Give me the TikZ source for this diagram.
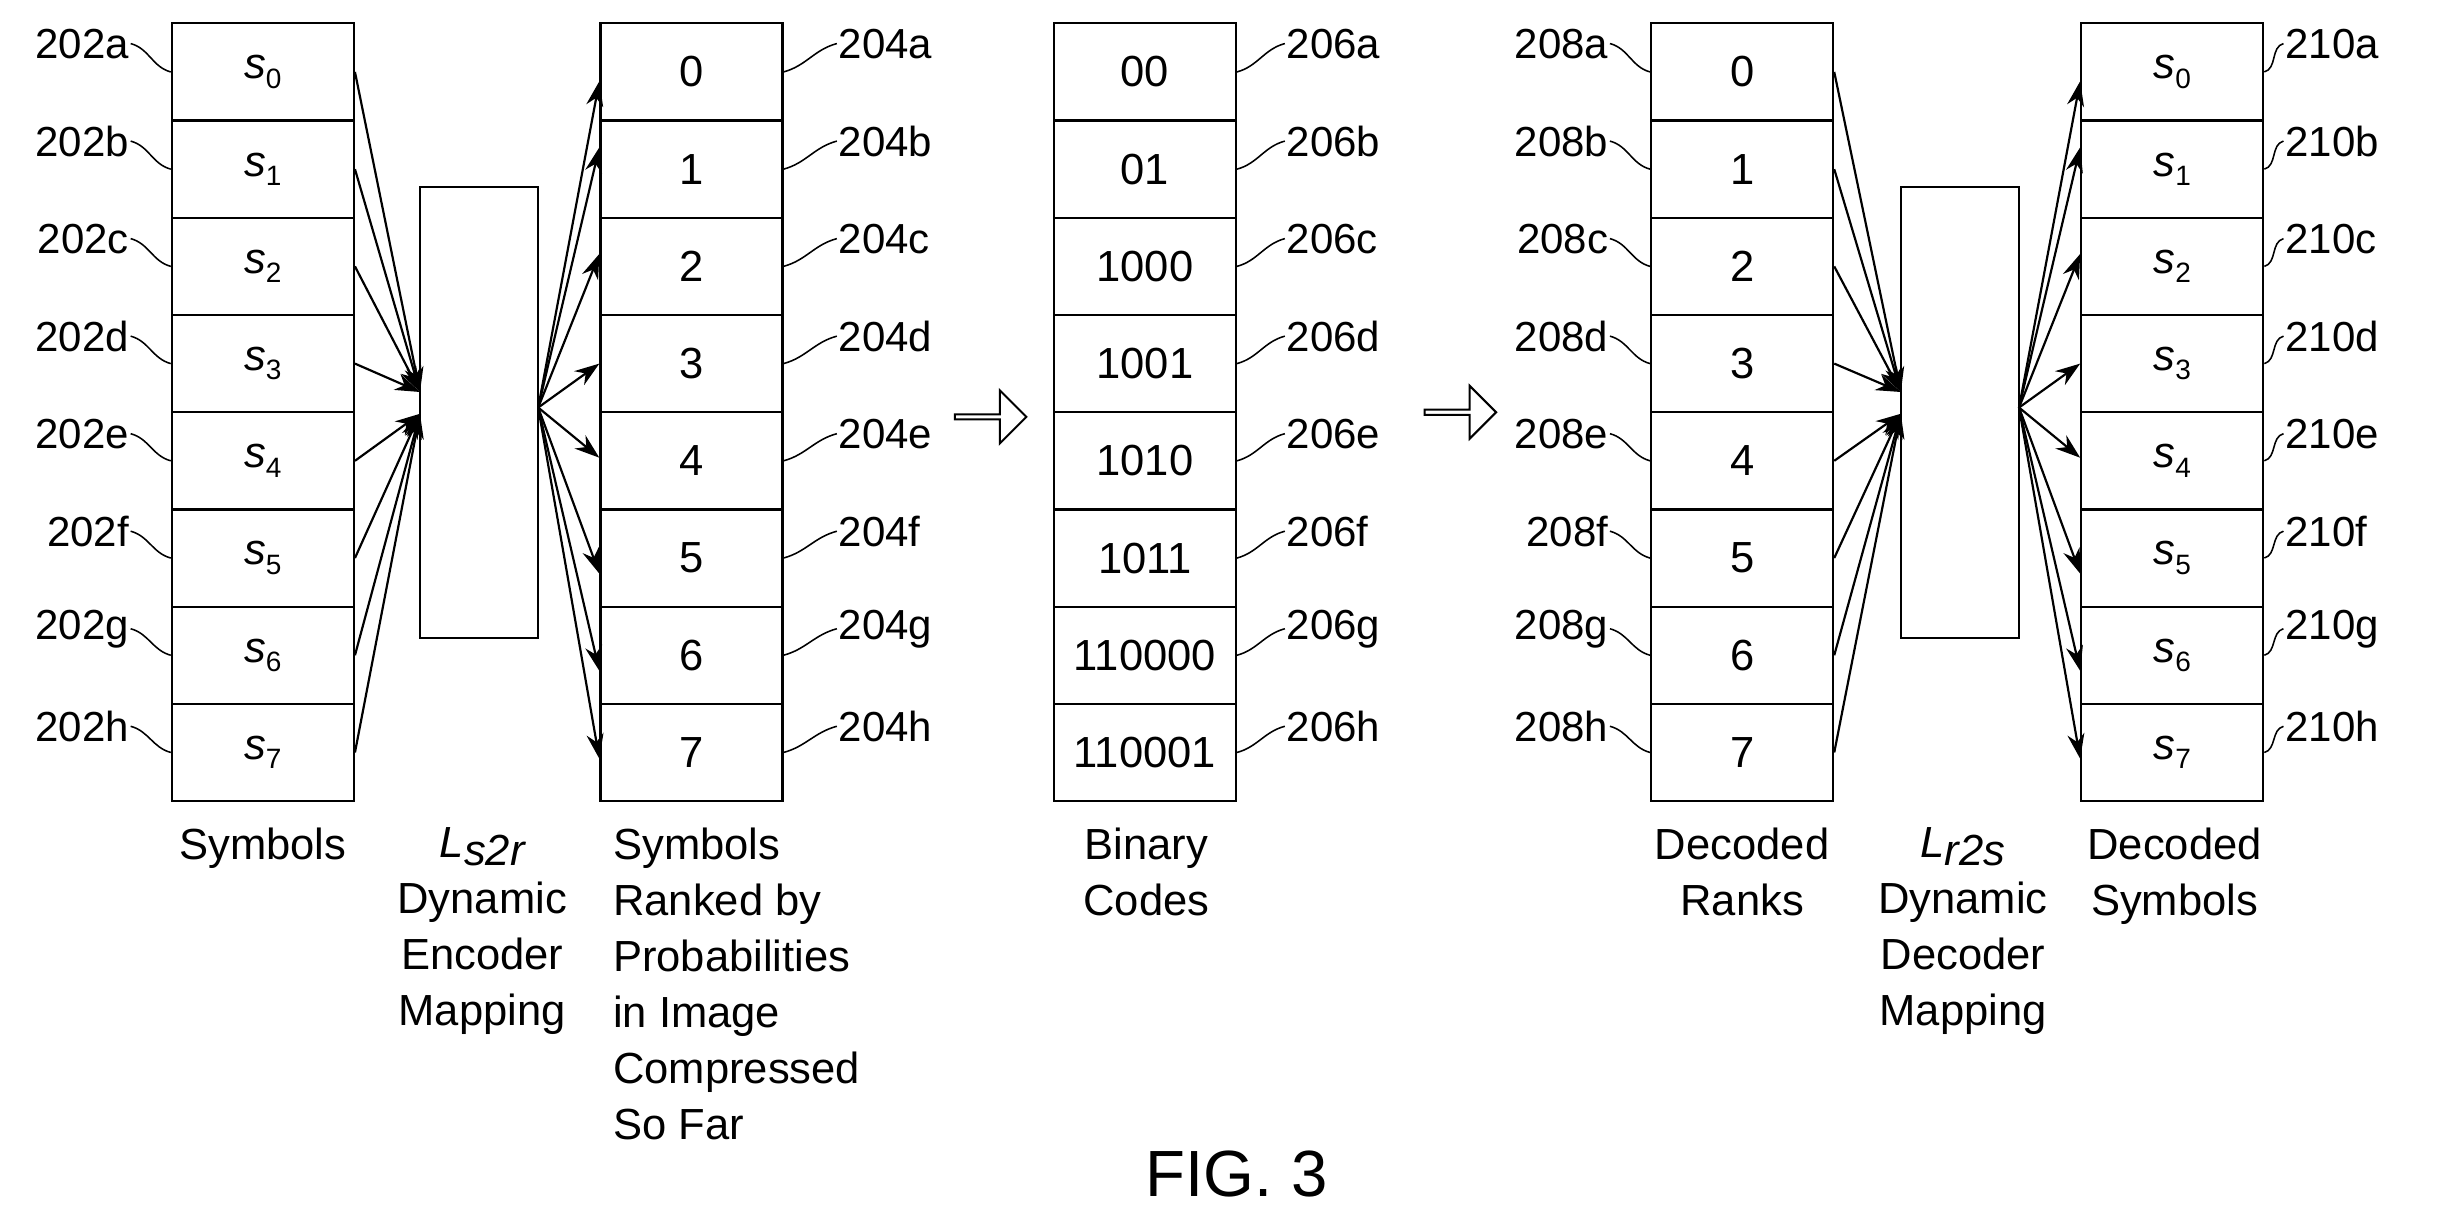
\documentclass[tikz,border=0pt]{standalone}
\usepackage{fontspec}
\setmainfont{Liberation Sans}
\usetikzlibrary{arrows.meta,shapes.arrows}
\begin{document}
\begin{tikzpicture}[x=1pt,y=-1pt,
  cell/.style={draw,line width=1.4pt,minimum width=117pt,minimum height=62.5pt,inner sep=0pt,font=\fontsize{28}{32}\selectfont},
  box/.style={draw,line width=1.4pt,minimum width=76pt,minimum height=290pt,inner sep=0pt},
  lab/.style={inner sep=1pt,font=\fontsize{27}{30}\selectfont},
  captxt/.style={align=center,font=\fontsize{28}{36}\selectfont,inner sep=0pt,anchor=north},
  lead/.style={line width=1pt},
  arr/.style={line width=1.4pt,-{Stealth[length=16pt,width=11pt]}},
  hollow/.style={draw,line width=1.3pt,single arrow,minimum height=46pt,minimum width=34pt,single arrow head extend=6pt,inner sep=0pt}]
\useasboundingbox (0,0) rectangle (1568,785);
\newcommand{\sym}[1]{{\itshape s}\raisebox{-6pt}{\fontsize{18}{20}\selectfont #1}}
\foreach \i in {0,...,7}{
  \pgfmathsetmacro{\yy}{46.25+62.5*\i}
  \node[cell] (A\i) at (169,\yy) {\sym{\i}};
  \node[cell] (B\i) at (444.5,\yy) {\i};
  \node[cell] (D\i) at (1120,\yy) {\i};
  \node[cell] (E\i) at (1396.5,\yy) {\sym{\i}};
}
\foreach \c [count=\i from 0] in {00,01,1000,1001,1010,1011,110000,110001}{
  \pgfmathsetmacro{\yy}{46.25+62.5*\i}
  \node[cell] (C\i) at (736,\yy) {\c};
}
\foreach \l [count=\i from 0] in {a,b,c,d,e,f,g,h}{
  \pgfmathsetmacro{\yy}{28+62.7*\i}
  \node[lab,anchor=east] (LA\i) at (84,\yy) {202\l};
  \draw[lead] (LA\i.east) to[out=-15,in=165] (A\i.west);
  \node[lab,anchor=west] (LB\i) at (538,\yy) {204\l};
  \draw[lead] (B\i.east) to[out=15,in=195] (LB\i.west);
  \node[lab,anchor=west] (LC\i) at (826,\yy) {206\l};
  \draw[lead] (C\i.east) to[out=15,in=195] (LC\i.west);
  \node[lab,anchor=east] (LD\i) at (1035,\yy) {208\l};
  \draw[lead] (LD\i.east) to[out=-15,in=165] (D\i.west);
  \node[lab,anchor=west] (LE\i) at (1468,\yy) {210\l};
  \draw[lead] (E\i.east) to[out=15,in=195] (LE\i.west);
}
\node[box] (enc) at (308,265) {};
\node[box] (dec) at (1260,265) {};
\coordinate (eu) at (270,252);
\coordinate (ed) at (270,266);
\coordinate (eo) at (346,262);
\coordinate (du) at (1222,252);
\coordinate (dd) at (1222,266);
\coordinate (do) at (1298,262);
\foreach \i in {0,...,3}{
  \draw[arr] (A\i.east) -- (eu);
  \draw[arr] (D\i.east) -- (du);
}
\foreach \i in {4,...,7}{
  \draw[arr] (A\i.east) -- (ed);
  \draw[arr] (D\i.east) -- (dd);
}
\foreach \i/\o in {0/-6,1/14,2/8,3/0,4/2,5/-10,6/-10,7/-4}{
  \draw[arr] (eo) -- ([yshift=\o]B\i.west);
  \draw[arr] (do) -- ([yshift=\o]E\i.west);
}
\node[hollow] (h1) at (636,268) {};
\node[hollow] (h2) at (938,265) {};
\node[captxt] (t1) at (169,532) {Symbols};
\node[captxt] (t2) at (310,532) {{\itshape L\raisebox{-5pt}{s2r}}\\Dynamic\\Encoder\\Mapping};
\node[captxt,align=left,anchor=north west] (t3) at (394,532) {Symbols\\Ranked by\\Probabilities\\in Image\\Compressed\\So Far};
\node[captxt] (t4) at (737,532) {Binary\\Codes};
\node[captxt] (t5) at (1120,532) {Decoded\\Ranks};
\node[captxt] (t6) at (1262,532) {{\itshape L\raisebox{-5pt}{r2s}}\\Dynamic\\Decoder\\Mapping};
\node[captxt] (t7) at (1398,532) {Decoded\\Symbols};
\node[font=\fontsize{42}{46}\selectfont] (fig) at (795,755) {FIG. 3};
\end{tikzpicture}
\end{document}
